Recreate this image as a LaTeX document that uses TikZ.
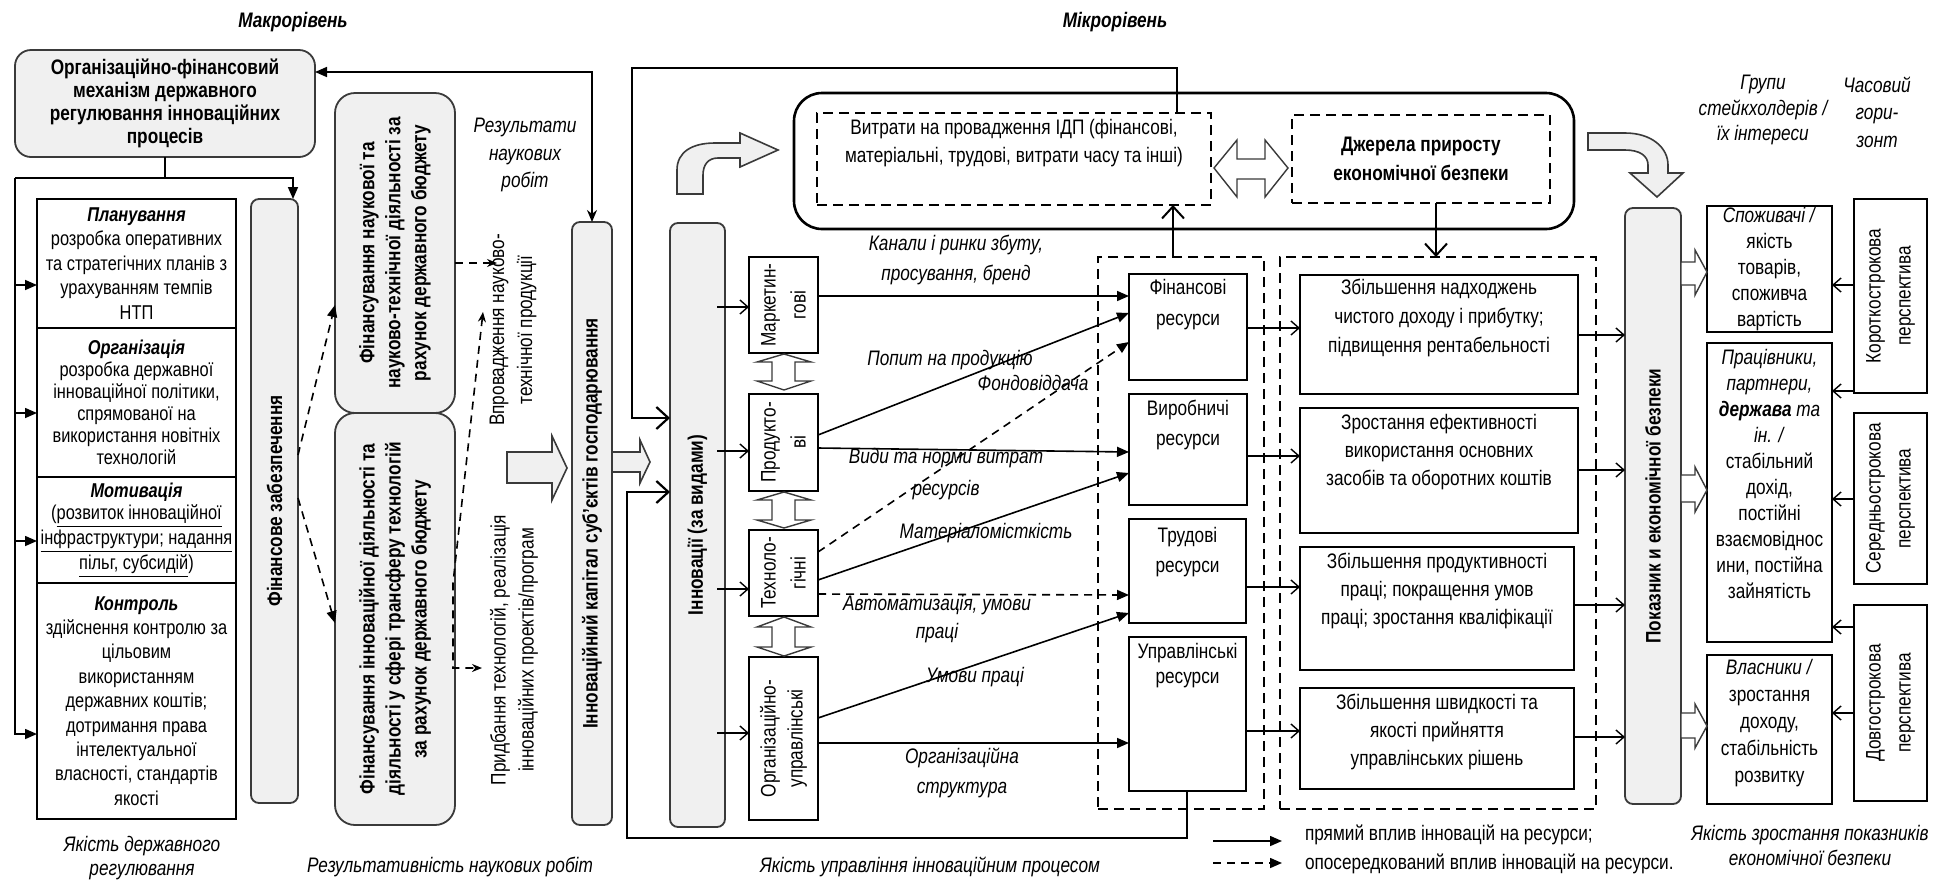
\documentclass[tikz,border=0pt]{standalone}
\usepackage{fontspec}
\setmainfont{Liberation Sans}[FakeStretch=0.82]
\usetikzlibrary{arrows.meta}
\definecolor{boxgray}{HTML}{F0F0F0}
\definecolor{edge}{HTML}{3A3A3A}
\newcommand\fs[2]{\fontsize{#1}{#2}\selectfont}
\newcommand\cbox[7]{\node[#1, minimum width={(#5-#3)*0.5pt}, minimum height={(#6-#4)*0.5pt}] (#2) at ({(#3+#5)/2},{(#4+#6)/2}) {#7};}
\tikzset{
  every node/.style={inner sep=0pt, outer sep=0pt},
  gbox/.style={draw=edge, fill=boxgray, line width=0.9pt, rounded corners=4pt},
  wbox/.style={draw=black, line width=0.8pt, fill=white},
  dbox/.style={draw=black, line width=1pt, dash pattern=on 5pt off 3pt},
  txt/.style={align=center, font=\fs{10.5}{12.5}},
  lab/.style={align=center, font=\fs{10.5}{15}\itshape},
  vtxt/.style={rotate=90, align=center},
  toptext/.style={anchor=north, align=center},
  ln/.style={line width=0.8pt},
  farr/.style={ln, -{Triangle[length=6pt,width=5pt]}},
  sdash/.style={dash pattern=on 4pt off 3pt},
  oarr/.style={line width=0.7pt, -{Straight Barb[length=4pt,width=7pt]}},
  barr/.style={line width=1.1pt, -{Straight Barb[length=6pt,width=11pt]}},
  blk/.style={draw=edge, fill=boxgray, line width=0.8pt},
  wblk/.style={draw=edge, fill=white, line width=0.7pt},
}
\begin{document}
\begin{tikzpicture}[x=0.5pt, y=-0.5pt]
\fill[white] (0,0) rectangle (1934,879);
\useasboundingbox (0,0) rectangle (1934,879);

% titles
\node[font=\fs{10.5}{12.5}\bfseries\itshape] (tmacro) at (293,22) {Макрорівень};
\node[font=\fs{10.5}{12.5}\bfseries\itshape] (tmicro) at (1115,22) {Мікрорівень};

% ---------- macro level ----------
\cbox{gbox, rounded corners=8pt, align=center, font=\fs{10.5}{11.5}\bfseries}{org}{15}{50}{315}{157}{Організаційно-фінансовий\\механізм державного\\регулювання інноваційних\\процесів}

\cbox{wbox, txt, font=\fs{10}{12.3}}{plan}{37}{199}{236}{328}{\textbf{\textit{Планування}}\\розробка оперативних\\та стратегічних планів з\\урахуванням темпів\\НТП}
\cbox{wbox, txt, font=\fs{10}{11}}{orgn}{37}{328}{236}{477}{\textbf{\textit{Організація}}\\розробка державної\\інноваційної політики,\\спрямованої на\\використання новітніх\\технологій}
\cbox{wbox, txt, font=\fs{10}{11.3}}{motiv}{37}{477}{236}{583}{\textbf{\textit{Мотивація}}\\(\underline{розвиток інноваційної}\\\underline{інфраструктури; надання}\\\underline{пільг, субсидій})}
\cbox{wbox, txt, font=\fs{10}{12.2}}{contr}{37}{583}{236}{819}{\textbf{\textit{Контроль}}\\здійснення контролю за\\цільовим\\використанням\\державних коштів;\\дотримання права\\інтелектуальної\\власності, стандартів\\якості}

\cbox{gbox}{fz}{251}{199}{298}{803}{}
\node[vtxt, font=\fs{10.5}{12.5}\bfseries] (fzt) at (fz.center) {Фінансове забезпечення};

\cbox{gbox, rounded corners=10pt}{fnauk}{335}{93}{455}{413}{}
\node[vtxt, font=\fs{10.5}{13}\bfseries] (fnaukt) at (fnauk.center) {Фінансування наукової та\\науково-технічної діяльності за\\рахунок державного бюджету};
\cbox{gbox, rounded corners=10pt}{finn}{335}{413}{455}{825}{}
\node[vtxt, font=\fs{10.5}{13}\bfseries] (finnt) at (finn.center) {Фінансування інноваційної діяльності та\\діяльності у сфері трансферу технологій\\за рахунок державного бюджету};

\node[align=center, font=\fs{10.5}{13.7}\itshape] (rez) at (525,155) {Результати\\наукових\\робіт};
\node[vtxt, font=\fs{10.5}{14}] (vpr) at (513,330) {Впровадження науково-\\технічної продукції};
\node[vtxt, font=\fs{10.5}{14}] (prid) at (514,650) {Придбання технологій, реалізація\\інноваційних проектів/програм};

\cbox{gbox}{cap}{572}{222}{612}{825}{}
\node[vtxt, font=\fs{10.5}{12.5}\bfseries] (capt) at (cap.center) {Інноваційний капітал суб’єктів господарювання};

% connectors macro
\coordinate (jl) at (15,178);
\coordinate (jr) at (293,178);
\draw[ln] (org.south) -- (org.south |- jl);
\draw[farr] (jl) -- (jr) -- (jr |- fz.north);
\draw[farr] (jl) |- (contr.west |- 0,734);
\coordinate (b1) at (15,285);
\coordinate (b2) at (15,413);
\coordinate (b3) at (15,541);
\draw[farr] (b1) -- (plan.west |- b1);
\draw[farr] (b2) -- (orgn.west |- b2);
\draw[farr] (b3) -- (motiv.west |- b3);

\draw[ln, {Triangle[length=6pt,width=5pt]}-{Stealth[length=6pt,width=5pt]}] (org.east |- 0,72) -| (cap.north);

\draw[farr, sdash] (fz.east |- 0,455) -- (fnauk.west |- 0,305);
\draw[farr, sdash] (fz.east |- 0,498) -- (finn.west |- 0,623);

\coordinate (vprc) at (497,263);
\coordinate (vprb) at (483,312);
\coordinate (pridc) at (482,668);
\draw[ln, sdash, -{Stealth[length=5pt,width=4pt]}] (fnauk.east |- vprc) -- (vprc);
\draw[ln, sdash, {Stealth[length=5pt,width=4pt]}-{Stealth[length=5pt,width=4pt]}] (vprb) -- (453,583) -- (453,668) -- (pridc);

\draw[blk] (507,452) -- (552,452) -- (552,436) -- (567,468) -- (552,500) -- (552,483) -- (507,483) -- cycle;

% ---------- micro level ----------
\cbox{gbox}{inn}{670}{223}{725}{827}{}
\node[vtxt, font=\fs{10.5}{12.5}\bfseries] (innt) at (inn.center) {Інновації (за видами)};

\draw[blk] (cap.east |- 0,452) -- (640,452) -- (640,440) -- (650,462) -- (640,483) -- (640,472) -- (cap.east |- 0,472) -- cycle;

\cbox{wbox}{mark}{749}{257}{818}{353}{}
\node[vtxt, font=\fs{10.5}{15}] (markt) at (mark.center) {Маркетин-\\гові};
\cbox{wbox}{prod}{749}{394}{818}{491}{}
\node[vtxt, font=\fs{10.5}{15}] (prodt) at (prod.center) {Продукто-\\ві};
\cbox{wbox}{tech}{749}{530}{818}{616}{}
\node[vtxt, font=\fs{10.5}{15}] (techt) at (tech.center) {Техноло-\\гічні};
\cbox{wbox}{orgu}{749}{657}{818}{820}{}
\node[vtxt, font=\fs{10.5}{13.5}] (orgut) at (orgu.center) {Організаційно-\\управлінські};

\draw[oarr] ([xshift=-4pt]inn.east |- 0,307) -- (mark.west |- 0,307);
\draw[oarr] ([xshift=-4pt]inn.east |- 0,451) -- (prod.west |- 0,451);
\draw[oarr] ([xshift=-4pt]inn.east |- 0,589) -- (tech.west |- 0,589);
\draw[oarr] ([xshift=-4pt]inn.east |- 0,733) -- (orgu.west |- 0,733);

% vertical double arrows
\draw[wblk] (784,354) -- (811,362) -- (795,362) -- (795,381) -- (811,381) -- (784,390) -- (757,381) -- (772,381) -- (772,362) -- (757,362) -- cycle;
\draw[wblk] (784,492) -- (811,500) -- (795,500) -- (795,520) -- (811,520) -- (784,528) -- (757,520) -- (772,520) -- (772,500) -- (757,500) -- cycle;
\draw[wblk] (784,617) -- (811,627) -- (795,627) -- (795,647) -- (811,647) -- (784,656) -- (757,647) -- (772,647) -- (772,627) -- (757,627) -- cycle;

% top block
\cbox{draw=black, line width=1.3pt, rounded corners=14pt}{vout}{794}{93}{1574}{229}{}
\cbox{dbox}{vyt}{817}{113}{1211}{205}{}
\node[toptext, font=\fs{10.5}{14}] (vytt) at ([yshift=-3pt]vyt.north) {Витрати на провадження ІДП (фінансові,\\матеріальні, трудові, витрати часу та інші)};
\cbox{dbox}{dzh}{1292}{115}{1550}{203}{}
\node[align=center, font=\fs{10.5}{14.5}\bfseries] (dzht) at (dzh.center) {Джерела приросту\\економічної безпеки};
\draw[wblk] (1214,168) -- (1237,140) -- (1237,159) -- (1265,159) -- (1265,140) -- (1288,168) -- (1265,197) -- (1265,179) -- (1237,179) -- (1237,197) -- cycle;

% curved block arrows
\draw[blk] (677,194) -- (677,170) .. controls (677,152) and (692,143) .. (715,143) -- (740,143) -- (740,133) -- (778,150) -- (740,167) -- (740,158) -- (718,158) .. controls (708,158) and (703,165) .. (703,175) -- (703,194) -- cycle;
\draw[blk] (1588,133) -- (1625,133) .. controls (1652,133) and (1668,148) .. (1668,165) -- (1668,173) -- (1683,173) -- (1657,197) -- (1630,173) -- (1648,173) -- (1648,165) .. controls (1648,156) and (1640,150) .. (1625,150) -- (1588,150) -- cycle;

% resource groups
\cbox{dbox}{rgrp}{1098}{257}{1264}{809}{}
\cbox{dbox}{zgrp}{1280}{257}{1596}{809}{}

\cbox{wbox}{fin}{1129}{274}{1247}{380}{}
\node[toptext, font=\fs{10.5}{15.5}] (fint) at ([yshift=-2.5pt]fin.north) {Фінансові\\ресурси};
\cbox{wbox}{vyr}{1129}{394}{1247}{505}{}
\node[toptext, font=\fs{10.5}{15}] (vyrt) at ([yshift=-3pt]vyr.north) {Виробничі\\ресурси};
\cbox{wbox}{trud}{1129}{519}{1246}{623}{}
\node[toptext, font=\fs{10.5}{15}] (trudt) at ([yshift=-4pt]trud.north) {Трудові\\ресурси};
\cbox{wbox}{upr}{1129}{637}{1246}{791}{}
\node[toptext, font=\fs{10.5}{12.5}] (uprt) at ([yshift=-3pt]upr.north) {Управлінські\\ресурси};

\cbox{wbox}{r1}{1300}{275}{1578}{394}{}
\node[toptext, font=\fs{10.5}{14.5}] (r1t) at ([yshift=-2pt]r1.north) {Збільшення надходжень\\чистого доходу і прибутку;\\підвищення рентабельності};
\cbox{wbox}{r2}{1300}{408}{1578}{533}{}
\node[toptext, font=\fs{10.5}{14}] (r2t) at ([yshift=-3pt]r2.north) {Зростання ефективності\\використання основних\\засобів та оборотних коштів};
\cbox{wbox}{r3}{1300}{547}{1574}{670}{}
\node[toptext, font=\fs{10.5}{14}] (r3t) at ([yshift=-3pt]r3.north) {Збільшення продуктивності\\праці; покращення умов\\праці; зростання кваліфікації};
\cbox{wbox}{r4}{1300}{688}{1574}{789}{}
\node[toptext, font=\fs{10.5}{14}] (r4t) at ([yshift=-3pt]r4.north) {Збільшення швидкості та\\якості прийняття\\управлінських рішень};

% innovation -> resources
\draw[farr] (mark.east |- 0,296) -- (fin.west |- 0,296);
\draw[farr] (prod.east |- 0,435) -- (fin.west |- 0,313);
\draw[farr, sdash] (tech.east |- 0,552) -- (fin.west |- 0,342);
\draw[farr] (prod.east |- 0,448) -- (vyr.west |- 0,452);
\draw[farr] (tech.east |- 0,580) -- (vyr.west |- 0,473);
\draw[farr, sdash] (tech.east |- 0,594) -- (trud.west |- 0,595);
\draw[farr] (orgu.east |- 0,718) -- (trud.west |- 0,613);
\draw[farr] (orgu.east |- 0,743) -- (upr.west |- 0,743);

\node[lab] (l1) at (956,260) {Канали і ринки збуту,\\просування, бренд};
\node[lab] (l2) at (950,360) {Попит на продукцію};
\node[lab] (l3) at (1033,383) {Фондовіддача};
\node[lab, font=\fs{10.5}{16}\itshape] (l4) at (946,474) {Види та норми витрат\\ресурсів};
\node[lab] (l5) at (986,533) {Матеріаломісткість};
\node[lab, font=\fs{10.5}{14}\itshape] (l6) at (937,619) {Автоматизація, умови\\праці};
\node[lab] (l7) at (975,677) {Умови праці};
\node[lab] (l8) at (962,773) {Організаційна\\структура};

% up / down arrows to top block
\draw[barr, line width=1pt] (rgrp.north -| 1173,0) -- (vyt.south -| 1173,0);
\draw[barr, line width=1pt] (dzh.south -| 1436,0) -- (zgrp.north -| 1436,0);

% feedback to innovations
\draw[barr] (vyt.north -| 1177,0) -- (1177,68) -- (632,68) -- (632,418) -- (inn.west |- 0,418);
\draw[barr] (upr.south -| 1187,0) -- (1187,838) -- (627,838) -- (627,492) -- (inn.west |- 0,492);

% resources -> results
\draw[oarr] (fin.east |- 0,328) -- (r1.west |- 0,328);
\draw[oarr] (vyr.east |- 0,456) -- (r2.west |- 0,456);
\draw[oarr] (trud.east |- 0,587) -- (r3.west |- 0,587);
\draw[oarr] (upr.east |- 0,731) -- (r4.west |- 0,731);

% indicator
\cbox{gbox}{pok}{1625}{208}{1681}{804}{}
\node[vtxt, font=\fs{10.5}{12.5}\bfseries] (pokt) at (pok.center) {Показник и економічної безпеки};
\draw[oarr] (r1.east |- 0,335) -- (pok.west |- 0,335);
\draw[oarr] (r2.east |- 0,470) -- (pok.west |- 0,470);
\draw[oarr] (r3.east |- 0,605) -- (pok.west |- 0,605);
\draw[oarr] (r4.east |- 0,737) -- (pok.west |- 0,737);

% stakeholders
\cbox{wbox, txt, font=\fs{10.5}{13}}{s1}{1707}{206}{1832}{332}{\textit{Споживачі /}\\якість\\товарів,\\споживча\\вартість}
\cbox{wbox}{s2}{1707}{343}{1832}{642}{}
\node[toptext, font=\fs{10.5}{13}] (s2t) at ([yshift=-3pt]s2.north) {\textit{Працівники,}\\\textit{партнери,}\\\textbf{\textit{держава}} \textit{та}\\\textit{ін. /}\\стабільний\\дохід,\\постійні\\взаємовіднос\\ини, постійна\\зайнятість};
\cbox{wbox}{s3}{1707}{655}{1832}{804}{}
\node[toptext, font=\fs{10.5}{13.5}] (s3t) at ([yshift=-2pt]s3.north) {\textit{Власники /}\\зростання\\доходу,\\стабільність\\розвитку};

\draw[wblk] (1681,262) -- (1695,262) -- (1695,250) -- (1707,272) -- (1695,295) -- (1695,285) -- (1681,285) -- cycle;
\draw[wblk] (1681,475) -- (1695,475) -- (1695,467) -- (1707,490) -- (1695,512) -- (1695,502) -- (1681,502) -- cycle;
\draw[wblk] (1681,713) -- (1695,713) -- (1695,704) -- (1707,726) -- (1695,748) -- (1695,738) -- (1681,738) -- cycle;

% horizons
\cbox{wbox}{h1}{1854}{199}{1927}{393}{}
\node[vtxt, font=\fs{10.5}{15}] (h1t) at (h1.center) {Короткострокова\\перспектива};
\cbox{wbox}{h2}{1854}{413}{1927}{584}{}
\node[vtxt, font=\fs{10.5}{15}] (h2t) at (h2.center) {Середньострокова\\перспектива};
\cbox{wbox}{h3}{1854}{605}{1927}{801}{}
\node[vtxt, font=\fs{10.5}{15}] (h3t) at (h3.center) {Довгострокова\\перспектива};

\draw[oarr] (h1.west |- 0,285) -- (s1.east |- 0,285);
\draw[oarr] (h1.west |- 0,391) -- (s2.east |- 0,391);
\draw[oarr] (h2.west |- 0,499) -- (s2.east |- 0,499);
\draw[oarr] (h3.west |- 0,627) -- (s2.east |- 0,627);
\draw[oarr] (h3.west |- 0,713) -- (s3.east |- 0,713);

% headers
\node[align=center, font=\fs{10.5}{12.8}\itshape] (hgr) at (1763,110) {Групи\\стейкхолдерів /\\їх інтереси};
\node[align=center, font=\fs{10.5}{13.8}\itshape] (hch) at (1877,112) {Часовий\\гори-\\зонт};

% bottom captions
\node[anchor=north, align=center, font=\fs{10.5}{12}\itshape] (c1) at (142,836) {Якість державного\\регулювання};
\node[font=\fs{10.5}{12.5}\itshape] (c2) at (450,867) {Результативність наукових робіт};
\node[font=\fs{10.5}{12.5}\itshape] (c3) at (930,867) {Якість управління інноваційним процесом};
\node[align=center, font=\fs{10.5}{12.5}\itshape] (c4) at (1810,845) {Якість зростання показників\\економічної безпеки};

% legend
\coordinate (lg1a) at (1213,841);
\coordinate (lg1b) at (1282,841);
\coordinate (lg2a) at (1213,863);
\coordinate (lg2b) at (1282,863);
\draw[farr] (lg1a) -- (lg1b);
\draw[farr, sdash] (lg2a) -- (lg2b);
\node[anchor=west, font=\fs{10.5}{12.5}] (lgt1) at (1305,835) {прямий вплив інновацій на ресурси;};
\node[anchor=west, font=\fs{10.5}{12.5}] (lgt2) at (1305,864) {опосередкований вплив інновацій на ресурси.};
\end{tikzpicture}
\end{document}
